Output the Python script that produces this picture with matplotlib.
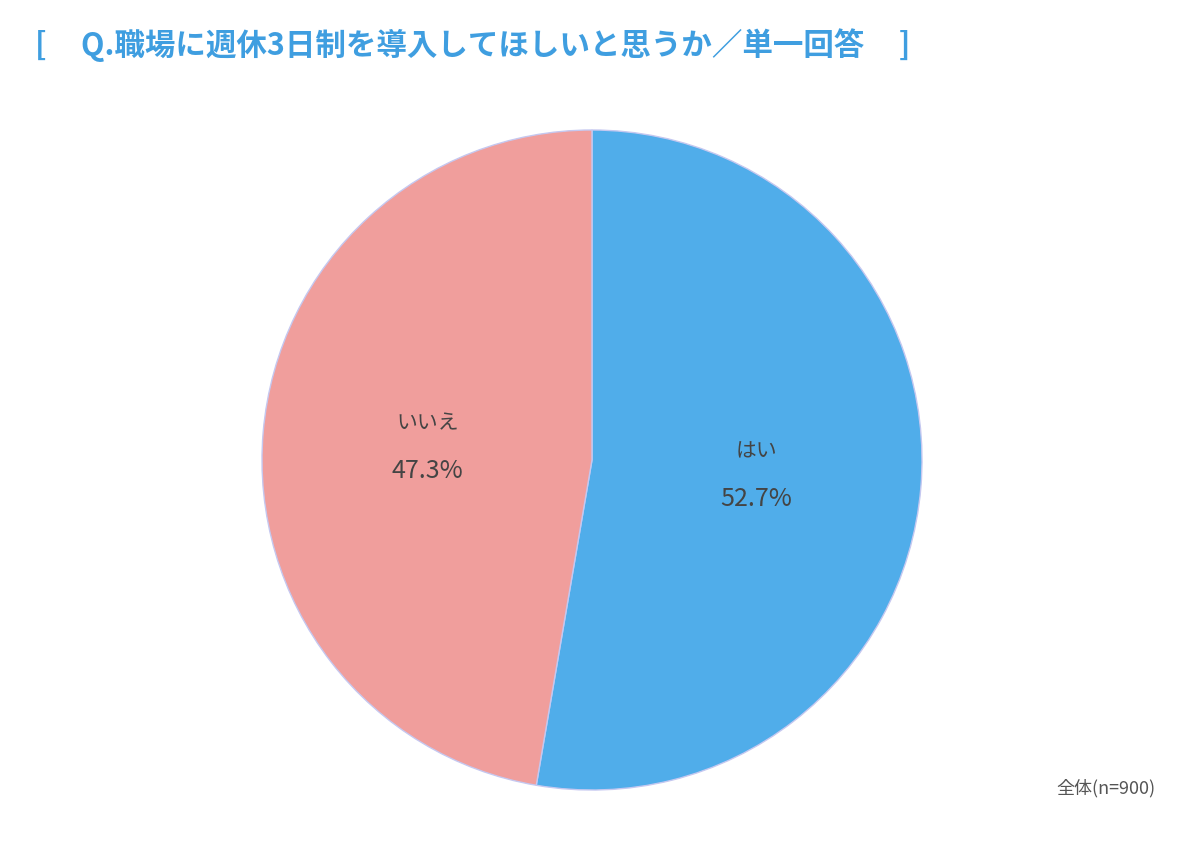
import numpy as np
import matplotlib.pyplot as plt

plt.rcParams['font.family'] = ['Noto Sans CJK JP', 'DejaVu Sans']

labels = ['はい', 'いいえ']
values = [52.7, 47.3]
colors = ['#50adea', '#f09e9c']
title = '[     Q.職場に週休3日制を導入してほしいと思うか／単一回答     ]'
note = '全体(n=900)'

fig = plt.figure(figsize=(12, 8.46), dpi=100)
ax = fig.add_axes([262 / 1200, 56 / 846, 660 / 1200, 660 / 846])

wedges, _ = ax.pie(values, colors=colors, startangle=90, counterclock=False,
                   wedgeprops=dict(edgecolor='#c5c8f0', linewidth=1))
ax.set_xlim(-1, 1)
ax.set_ylim(-1, 1)
ax.set_aspect('equal')

for w, lab, v in zip(wedges, labels, values):
    mid = np.deg2rad((w.theta1 + w.theta2) / 2)
    x, y = 0.5 * np.cos(mid), 0.5 * np.sin(mid)
    ax.text(x, y + 0.035, lab, ha='center', va='bottom', fontsize=15, color='#444444')
    ax.text(x, y - 0.035, f'{v}%', ha='center', va='top', fontsize=18, color='#444444')

fig.text(35 / 1200, 1 - 45 / 846, title, fontsize=22, fontweight='bold',
         color='#3f9ee0', va='center', ha='left')
fig.text(1155 / 1200, 1 - 788 / 846, note, fontsize=13, color='#555555',
         ha='right', va='center')

fig.savefig('out.png')
